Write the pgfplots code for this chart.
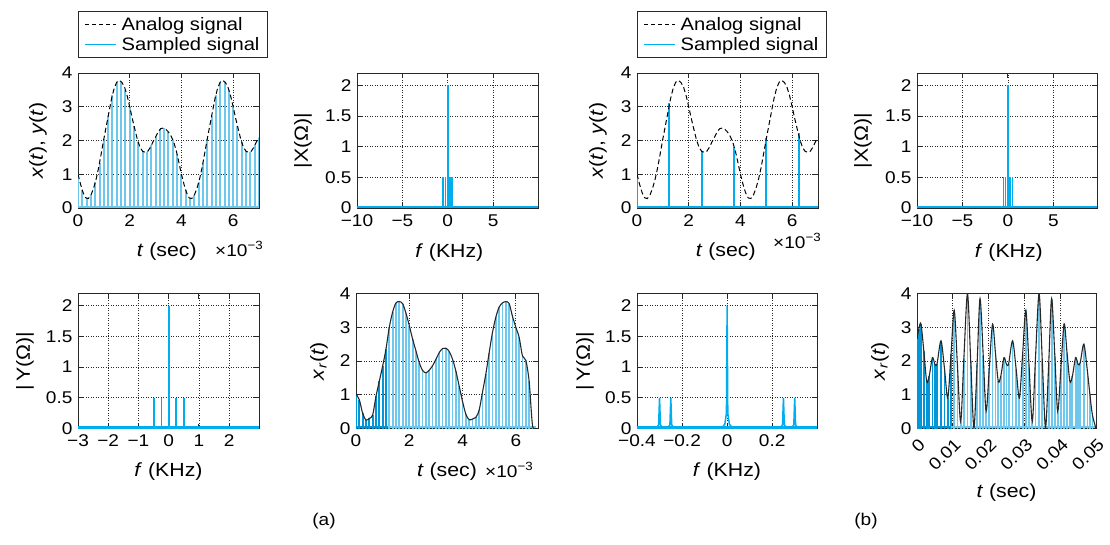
\documentclass[border=0pt]{standalone}
\usepackage{fontspec}
\setmainfont[FakeStretch=1.12]{Liberation Sans}
\usepackage{pgfplots}
\usepackage{pgfplotstable}
\pgfplotsset{compat=1.18}
\definecolor{specblue}{RGB}{0,174,239}
\definecolor{stemlight}{RGB}{110,200,238}
\definecolor{stemdark}{RGB}{0,150,215}
\definecolor{axgray}{RGB}{40,40,40}

\pgfplotsset{
  myaxis/.style={
    scale only axis, anchor=south west,
    scaled ticks=false,
    tick align=inside, major tick length=5pt,
    axis line style={axgray, line width=0.9pt},
    tick style={axgray, line width=0.9pt},
    grid=major,
    major grid style={axgray, line width=0.7pt, dash pattern=on 0.7pt off 1.8pt},
    ticklabel style={font=\fontsize{17}{20}\selectfont},
    xticklabel style={yshift=-3pt},
    yticklabel style={xshift=-2pt},
    label style={font=\fontsize{19}{22}\selectfont},
    xlabel style={anchor=center},
    ylabel style={anchor=center},
  },
  mylegend/.style={
    legend cell align=left,
    legend style={at={(axis description cs:0,1)}, anchor=south west, yshift=15pt,
       draw=axgray, line width=0.9pt, font=\fontsize{18}{21}\selectfont,
       inner xsep=6pt, inner ysep=4pt, row sep=1pt, nodes={inner sep=2pt},
       /tikz/every odd column/.append style={column sep=3pt}},
    legend image code/.code={\draw[##1] (0pt,0pt) -- (31pt,0pt);},
  },
  spike/.style={draw=specblue, line width=#1, line cap=butt},
}

% analog signal (ms, value)
\pgfplotstableread{
t v
0.0 1.00
0.1 0.70
0.2 0.45
0.3 0.30
0.4 0.28
0.5 0.38
0.6 0.58
0.7 0.85
0.8 1.20
0.9 1.62
1.0 2.05
1.1 2.45
1.2 2.85
1.3 3.25
1.4 3.55
1.5 3.73
1.6 3.78
1.7 3.72
1.8 3.58
1.9 3.33
2.0 3.00
2.1 2.65
2.2 2.33
2.3 2.02
2.4 1.80
2.5 1.68
2.6 1.65
2.7 1.68
2.8 1.80
2.9 1.96
3.0 2.10
3.1 2.26
3.2 2.35
3.3 2.37
3.4 2.33
3.5 2.25
3.6 2.13
3.7 1.96
3.8 1.70
3.9 1.36
4.0 1.00
4.1 0.70
4.2 0.45
4.3 0.30
4.4 0.28
4.5 0.38
4.6 0.58
4.7 0.85
4.8 1.20
4.9 1.62
5.0 2.05
5.1 2.45
5.2 2.85
5.3 3.25
5.4 3.55
5.5 3.73
5.6 3.78
5.7 3.72
5.8 3.58
5.9 3.33
6.0 3.00
6.1 2.65
6.2 2.33
6.3 2.02
6.4 1.80
6.5 1.68
6.6 1.65
6.7 1.68
6.8 1.80
6.9 1.96
7.0 2.08
}\analog

% samples at fs = 6 kHz (ms, value)
\pgfplotstableread{
t v
0.0000 1.00
0.1667 0.53
0.3333 0.29
0.5000 0.38
0.6667 0.76
0.8333 1.34
1.0000 2.05
1.1667 2.72
1.3333 3.35
1.5000 3.73
1.6667 3.74
1.8333 3.50
2.0000 3.00
2.1667 2.44
2.3333 1.95
2.5000 1.68
2.6667 1.67
2.8333 1.86
3.0000 2.10
3.1667 2.33
3.3333 2.36
3.5000 2.25
3.6667 2.02
3.8333 1.59
4.0000 1.00
4.1667 0.53
4.3333 0.29
4.5000 0.38
4.6667 0.76
4.8333 1.34
5.0000 2.05
5.1667 2.72
5.3333 3.35
5.5000 3.73
5.6667 3.74
5.8333 3.50
6.0000 3.00
6.1667 2.44
6.3333 1.95
6.5000 1.68
6.6667 1.67
6.8333 1.86
7.0000 2.08
}\samplesA

% reconstructed signal, fs = 6 kHz (ms, value)
\pgfplotstableread{
t v
0.000 1.02
0.125 0.85
0.250 0.45
0.375 0.25
0.500 0.30
0.625 0.40
0.750 0.95
0.875 1.40
1.000 1.85
1.125 2.35
1.250 3.00
1.375 3.45
1.500 3.72
1.625 3.76
1.750 3.70
1.875 3.42
2.000 3.05
2.125 2.65
2.250 2.30
2.375 1.95
2.500 1.72
2.625 1.65
2.750 1.73
2.875 1.86
3.000 2.05
3.125 2.25
3.250 2.37
3.375 2.38
3.500 2.28
3.625 2.05
3.750 1.70
3.875 1.25
4.000 0.80
4.125 0.42
4.250 0.26
4.375 0.28
4.500 0.33
4.625 0.55
4.750 1.08
4.875 1.62
5.000 2.25
5.125 2.85
5.250 3.30
5.375 3.60
5.500 3.72
5.625 3.76
5.750 3.70
5.875 3.32
6.000 3.00
6.125 2.70
6.250 2.15
6.375 2.02
6.500 1.40
6.625 0.10
6.750 0.00
}\recA

% reconstructed signal, fs = 800 Hz (s, value)
\pgfplotstableread{
t v
0.0000 2.65
0.0005 2.95
0.0011 3.10
0.0019 2.30
0.0027 1.40
0.0034 1.55
0.0043 2.10
0.0050 1.90
0.0056 1.92
0.0067 2.60
0.0077 1.75
0.0086 0.90
0.0095 2.20
0.0104 3.50
0.0113 1.85
0.0122 0.20
0.0131 2.10
0.0141 4.00
0.0150 2.00
0.0159 0.02
0.0168 1.95
0.0176 3.85
0.0185 2.15
0.0193 0.50
0.0202 1.80
0.0211 3.10
0.0219 2.25
0.0227 1.40
0.0234 1.55
0.0243 2.10
0.0250 1.90
0.0256 1.92
0.0267 2.60
0.0277 1.75
0.0286 0.90
0.0295 2.20
0.0304 3.50
0.0313 1.85
0.0322 0.20
0.0331 2.10
0.0341 4.00
0.0350 2.00
0.0359 0.02
0.0368 1.95
0.0376 3.85
0.0385 2.15
0.0393 0.50
0.0402 1.80
0.0411 3.10
0.0419 2.25
0.0427 1.40
0.0434 1.55
0.0443 2.10
0.0450 1.90
0.0456 1.95
0.0466 2.50
0.0476 1.70
0.0483 1.00
0.0490 0.40
0.0500 0.00
}\recB

\begin{document}
\begin{tikzpicture}
\useasboundingbox (0pt,0pt) rectangle (1110pt,544pt);

% ---------- P1 ----------
\begin{axis}[myaxis, mylegend, at={(78pt,336pt)}, width=181pt, height=135pt,
  xmin=0, xmax=7, ymin=0, ymax=4,
  xtick={0,2,4,6}, xticklabels={0,2,4,6},
  ytick={0,1,2,3,4}, yticklabels={0,1,2,3,4},
  xlabel={\textit{t} (sec)}, ylabel={\textit{x}(\textit{t}), \textit{y}(\textit{t})},
  xlabel style={at={([yshift=-44pt]axis description cs:0.49,0)}},
  ylabel style={at={([xshift=-40pt]axis description cs:0,0.5)}}]
\addlegendimage{draw=black, line width=1pt, dash pattern=on 4pt off 3pt}
\addlegendentry{Analog signal}
\addlegendimage{draw=specblue, line width=1.2pt}
\addlegendentry{Sampled signal}
\addplot[draw=stemlight, ycomb, line width=2pt, forget plot] table[x=t,y=v] {\samplesA};
\addplot[draw=stemlight, line width=2pt, forget plot] coordinates {(0,0.03) (7,0.03)};
\addplot[draw=black, line width=1pt, dash pattern=on 5pt off 3pt, forget plot] table[x=t,y=v] {\analog};
\end{axis}

% ---------- P2 ----------
\begin{axis}[myaxis, at={(357pt,336pt)}, width=181pt, height=135pt,
  xmin=-10, xmax=9.95, ymin=0, ymax=2.2,
  xtick={-10,-5,0,5}, xticklabels={−10,−5,0,5},
  ytick={0,0.5,1,1.5,2}, yticklabels={0,0.5,1,1.5,2},
  xlabel={\textit{f} (KHz)}, ylabel={|X(Ω)|},
  xlabel style={at={([yshift=-45pt]axis description cs:0.51,0)}},
  ylabel style={at={([xshift=-54pt]axis description cs:0,0.5)}}]
\addplot[spike=2.5pt] coordinates {(-10,0.02) (9.95,0.02)};
\addplot[spike=1.8pt] coordinates {(-0.48,0) (-0.48,0.5)};
\addplot[spike=1.8pt] coordinates {(-0.25,0) (-0.25,0.5)};
\addplot[spike=1.8pt] coordinates {(0.25,0) (0.25,0.5)};
\addplot[spike=1.8pt] coordinates {(0.5,0) (0.5,0.5)};
\addplot[spike=1.6pt] coordinates {(0,0) (0,2)};
\end{axis}

% ---------- P3 ----------
\begin{axis}[myaxis, at={(78pt,115.5pt)}, width=181pt, height=135pt,
  xmin=-3, xmax=2.99, ymin=0, ymax=2.2,
  xtick={-3,-2,-1,0,1,2}, xticklabels={−3,−2,−1,0,1,2},
  ytick={0,0.5,1,1.5,2}, yticklabels={0,0.5,1,1.5,2},
  xlabel={\textit{f} (KHz)}, ylabel={|\,Y(Ω)|},
  xlabel style={at={([yshift=-43pt]axis description cs:0.5,0)}},
  ylabel style={at={([xshift=-53pt]axis description cs:0,0.5)}}]
\addplot[spike=2.5pt] coordinates {(-3,0.02) (2.99,0.02)};
\addplot[spike=1.5pt] coordinates {(-0.48,0) (-0.48,0.5)};
\addplot[spike=1.5pt] coordinates {(-0.23,0) (-0.23,0.5)};
\addplot[spike=1.5pt] coordinates {(0.25,0) (0.25,0.5)};
\addplot[spike=1.5pt] coordinates {(0.5,0) (0.5,0.5)};
\addplot[spike=1.2pt] coordinates {(-1.75,0) (-1.75,0.04)};
\addplot[spike=1.2pt] coordinates {(-0.77,0) (-0.77,0.04)};
\addplot[spike=1.2pt] coordinates {(0.77,0) (0.77,0.04)};
\addplot[spike=1.2pt] coordinates {(1.75,0) (1.75,0.04)};
\addplot[spike=1.8pt] coordinates {(0,0) (0,2)};
\end{axis}

% ---------- P4 ----------
\begin{axis}[myaxis, at={(356pt,115.5pt)}, width=182pt, height=135pt,
  xmin=0, xmax=6.833, ymin=0, ymax=4,
  xtick={0,2,4,6}, xticklabels={0,2,4,6},
  ytick={0,1,2,3,4}, yticklabels={0,1,2,3,4},
  xlabel={\textit{t} (sec)}, ylabel={\textit{x}\textsubscript{\textit{r}}(\textit{t})},
  xlabel style={at={([yshift=-43pt]axis description cs:0.5,0)}},
  ylabel style={at={([xshift=-37pt]axis description cs:0,0.5)}}]
\addplot[draw=stemlight, ycomb, line width=1.8pt] table[x=t,y=v] {\recA};
\addplot[draw=stemdark, ycomb, line width=1.8pt, restrict x to domain=0:1.2] table[x=t,y=v] {\recA};
\addplot[draw=stemlight, line width=2pt] coordinates {(1.2,0.03) (6.75,0.03)};
\addplot[draw=stemdark, line width=2pt] coordinates {(0,0.03) (1.2,0.03)};
\addplot[draw=axgray, line width=1.1pt, smooth] table[x=t,y=v] {\recA};
\end{axis}

% ---------- P5 ----------
\begin{axis}[myaxis, mylegend, at={(637pt,336pt)}, width=181pt, height=135pt,
  xmin=0, xmax=7, ymin=0, ymax=4,
  xtick={0,2,4,6}, xticklabels={0,2,4,6},
  ytick={0,1,2,3,4}, yticklabels={0,1,2,3,4},
  xlabel={\textit{t} (sec)}, ylabel={\textit{x}(\textit{t}), \textit{y}(\textit{t})},
  xlabel style={at={([yshift=-44pt]axis description cs:0.49,0)}},
  ylabel style={at={([xshift=-39pt]axis description cs:0,0.5)}}]
\addlegendimage{draw=black, line width=1pt, dash pattern=on 4pt off 3pt}
\addlegendentry{Analog signal}
\addlegendimage{draw=specblue, line width=1.2pt}
\addlegendentry{Sampled signal}
\addplot[draw=specblue, ycomb, line width=2.2pt, forget plot] coordinates {(0,1.00) (1.25,3.12) (2.5,1.69) (3.75,1.82) (5.0,2.07) (6.25,2.23)};
\addplot[draw=specblue, line width=2pt, forget plot] coordinates {(0,0.03) (7,0.03)};
\addplot[draw=black, line width=1pt, dash pattern=on 5pt off 3pt, forget plot] table[x=t,y=v] {\analog};
\end{axis}

% ---------- P6 ----------
\begin{axis}[myaxis, at={(917pt,336pt)}, width=180pt, height=135pt,
  xmin=-10, xmax=9.8, ymin=0, ymax=2.2,
  xtick={-10,-5,0,5}, xticklabels={−10,−5,0,5},
  ytick={0,0.5,1,1.5,2}, yticklabels={0,0.5,1,1.5,2},
  xlabel={\textit{f} (KHz)}, ylabel={|X(Ω)|},
  xlabel style={at={([yshift=-45pt]axis description cs:0.51,0)}},
  ylabel style={at={([xshift=-54pt]axis description cs:0,0.5)}}]
\addplot[spike=2.5pt] coordinates {(-10,0.02) (9.8,0.02)};
\addplot[spike=1.6pt] coordinates {(-0.48,0) (-0.48,0.5)};
\addplot[spike=1.6pt] coordinates {(-0.25,0) (-0.25,0.5)};
\addplot[spike=1.6pt] coordinates {(0.25,0) (0.25,0.5)};
\addplot[spike=1.6pt] coordinates {(0.5,0) (0.5,0.5)};
\addplot[spike=1.4pt] coordinates {(0,0) (0,2)};
\end{axis}

% ---------- P7 ----------
\begin{axis}[myaxis, at={(637pt,115.5pt)}, width=180pt, height=135pt,
  xmin=-0.4, xmax=0.399, ymin=0, ymax=2.2,
  xtick={-0.4,-0.2,0,0.2}, xticklabels={−0.4,−0.2,0,0.2},
  ytick={0,0.5,1,1.5,2}, yticklabels={0,0.5,1,1.5,2},
  xlabel={\textit{f} (KHz)}, ylabel={|\,Y(Ω)|},
  xlabel style={at={([yshift=-43pt]axis description cs:0.5,0)}},
  ylabel style={at={([xshift=-52pt]axis description cs:0,0.5)}}]
\addplot[spike=2.5pt] coordinates {(-0.4,0.02) (0.399,0.02)};
\addplot[spike=1.5pt] coordinates {
 (-0.312,0.02) (-0.304,0.06) (-0.300,0.50) (-0.296,0.06) (-0.288,0.02)
 (-0.262,0.02) (-0.254,0.06) (-0.250,0.50) (-0.246,0.06) (-0.238,0.02)};
\addplot[spike=1.5pt] coordinates {
 (0.238,0.02) (0.246,0.06) (0.250,0.50) (0.254,0.06) (0.262,0.02)
 (0.288,0.02) (0.296,0.06) (0.300,0.50) (0.304,0.06) (0.312,0.02)};
\addplot[spike=1.5pt] coordinates {
 (-0.022,0.02) (-0.010,0.07) (-0.003,0.25) (0,2) (0.003,0.25) (0.010,0.07) (0.022,0.02)};
\end{axis}

% ---------- P8 ----------
\begin{axis}[myaxis, at={(917pt,115.5pt)}, width=179pt, height=135pt,
  xmin=0, xmax=0.05, ymin=0, ymax=4,
  xtick={0,0.01,0.02,0.03,0.04,0.05}, xticklabels={0,0.01,0.02,0.03,0.04,0.05},
  xticklabel style={rotate=45, anchor=north east, yshift=-1pt},
  ytick={0,1,2,3,4}, yticklabels={0,1,2,3,4},
  xlabel={\textit{t} (sec)}, ylabel={\textit{x}\textsubscript{\textit{r}}(\textit{t})},
  xlabel style={at={([yshift=-64pt]axis description cs:0.5,0)}},
  ylabel style={at={([xshift=-37pt]axis description cs:0,0.5)}}]
\addplot[draw=stemlight, ycomb, line width=1.8pt] table[x=t,y=v] {\recB};
\addplot[draw=stemdark, ycomb, line width=1.8pt, restrict x to domain=0:0.0096] table[x=t,y=v] {\recB};
\addplot[draw=stemlight, line width=2pt] coordinates {(0.0096,0.03) (0.05,0.03)};
\addplot[draw=stemdark, line width=2pt] coordinates {(0,0.03) (0.0096,0.03)};
\addplot[draw=axgray, line width=1.1pt, smooth] table[x=t,y=v] {\recB};
\end{axis}

% scale factors and panel captions
\node[anchor=west, font=\fontsize{17}{20}\selectfont, inner sep=0pt] at (215pt,295pt) {×10\textsuperscript{−3}};
\node[anchor=west, font=\fontsize{17}{20}\selectfont, inner sep=0pt] at (485pt,74pt) {×10\textsuperscript{−3}};
\node[anchor=west, font=\fontsize{17}{20}\selectfont, inner sep=0pt] at (773pt,303pt) {×10\textsuperscript{−3}};
\node[font=\fontsize{17}{20}\selectfont, inner sep=0pt] at (324pt,23pt) {(a)};
\node[font=\fontsize{17}{20}\selectfont, inner sep=0pt] at (866pt,23pt) {(b)};
\end{tikzpicture}
\end{document}
